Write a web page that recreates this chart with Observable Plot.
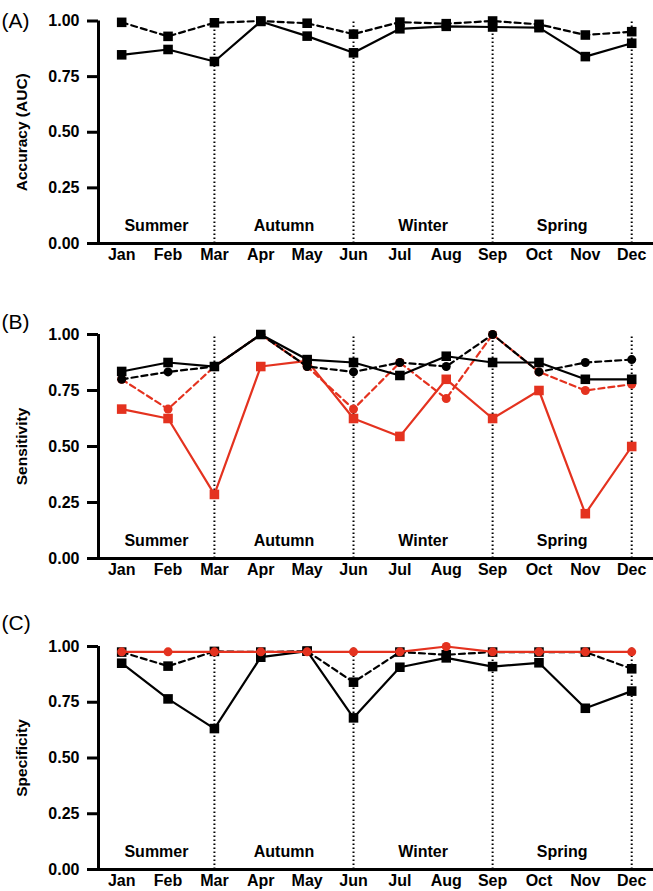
<!DOCTYPE html>
<html>
<head>
<meta charset="utf-8">
<script src="https://cdn.jsdelivr.net/npm/d3@7"></script>
<script src="https://cdn.jsdelivr.net/npm/@observablehq/plot@0.6"></script>
<style>
  html, body { margin: 0; padding: 0; background: #fff; }
  #chart { width: 653px; }
  #chart svg { display: block; }
</style>
</head>
<body>
<div id="chart"></div>
<script>
// ---- data ----
const months = ["Jan","Feb","Mar","Apr","May","Jun","Jul","Aug","Sep","Oct","Nov","Dec"];
const seasons = ["Summer","Autumn","Winter","Spring"];
const seasonEnds = ["Mar","Jun","Sep","Dec"];
const yTicks = [0, 0.25, 0.5, 0.75, 1];

// (A) Accuracy (AUC)
const aucSolid  = [0.848, 0.872, 0.818, 0.998, 0.932, 0.857, 0.965, 0.976, 0.973, 0.970, 0.840, 0.900];
const aucDashed = [0.994, 0.931, 0.992, 1.000, 0.990, 0.941, 0.995, 0.988, 1.000, 0.985, 0.937, 0.952];

// (B) Sensitivity
const sensBlackSolid  = [0.835, 0.875, 0.857, 1.000, 0.888, 0.875, 0.817, 0.903, 0.875, 0.875, 0.800, 0.800];
const sensBlackDashed = [0.800, 0.833, 0.857, 1.000, 0.857, 0.833, 0.875, 0.857, 1.000, 0.833, 0.875, 0.888];
const sensRedSolid    = [0.667, 0.625, 0.286, 0.857, 0.882, 0.625, 0.545, 0.800, 0.625, 0.750, 0.200, 0.500];
const sensRedDashed   = [0.800, 0.667, 0.857, 1.000, 0.857, 0.667, 0.875, 0.714, 1.000, 0.833, 0.750, 0.778];

// (C) Specificity
const specBlackSolid  = [0.925, 0.765, 0.632, 0.952, 0.979, 0.680, 0.907, 0.949, 0.910, 0.927, 0.723, 0.800];
const specBlackDashed = [0.975, 0.912, 0.978, 0.975, 0.979, 0.840, 0.975, 0.963, 0.975, 0.975, 0.975, 0.900];
const specRedSolid    = [0.976, 0.976, 0.976, 0.976, 0.976, 0.976, 0.976, 1.000, 0.976, 0.976, 0.976, 0.976];

// ---- styles ----
const RED = "#e4321f";
const BLACK = "#000";
const DASH = "6,4";
const seasonLabelY = 0.08;
const xDomain = [-0.5, 11.47];
const FONT = "'Liberation Sans', Arial, Helvetica, sans-serif";

const idx = m => months.indexOf(m);

function seasonCenters() {
  const out = [];
  let prev = xDomain[0];
  seasons.forEach((s, k) => {
    const end = idx(seasonEnds[k]);
    out.push({name: s, x: (prev + end) / 2, y: seasonLabelY});
    prev = end;
  });
  return out;
}

function panel({ytitle, label, series, height, marginTop, marginBottom, labelDy}) {
  const marks = [];
  marks.push(Plot.ruleX(seasonEnds.map(idx), {y1: 0, y2: 1, stroke: BLACK, strokeWidth: 2, strokeDasharray: "1.6,2.4"}));
  for (const s of series) {
    const rows = s.values.map((v, i) => ({i, v}));
    marks.push(Plot.line(rows, {x: "i", y: "v", stroke: s.color, strokeWidth: 2.2, strokeDasharray: s.dashed ? DASH : null}));
    marks.push(Plot.dot(rows, {x: "i", y: "v", symbol: s.symbol, r: s.symbol === "square" ? 5.4 : 4.5, fill: s.color, stroke: "none"}));
  }
  marks.push(Plot.ruleY([0], {stroke: BLACK, strokeWidth: 3}));
  marks.push(Plot.ruleX([xDomain[0]], {y1: 0, y2: 1, stroke: BLACK, strokeWidth: 3}));
  marks.push(Plot.axisY({ticks: yTicks, tickFormat: d3.format(".2f"), tickSize: 11, tickPadding: 8, strokeWidth: 3, fontSize: 16, fontWeight: "bold", label: null}));
  marks.push(Plot.axisX({ticks: months.map((m, i) => i), tickFormat: i => months[i], tickSize: 0, tickPadding: 5, fontSize: 16, fontWeight: "bold", label: null}));
  marks.push(Plot.text(seasonCenters(), {x: "x", y: "y", text: "name", fontSize: 16, fontWeight: "bold"}));
  marks.push(Plot.text([ytitle], {frameAnchor: "left", dx: -76, rotate: -90, textAnchor: "middle", fontSize: 15.5, fontWeight: "bold"}));
  marks.push(Plot.text([label], {frameAnchor: "top-left", dx: -97, dy: labelDy, textAnchor: "start", lineAnchor: "middle", fontSize: 21, fontWeight: "normal"}));
  return Plot.plot({
    width: 653,
    height,
    marginLeft: 98,
    marginRight: 0,
    marginTop,
    marginBottom,
    x: {type: "linear", domain: xDomain, axis: null},
    y: {domain: [0, 1], axis: null},
    style: {fontFamily: FONT, fontSize: "16px", color: "#000", background: "#fff", overflow: "visible"},
    marks
  });
}

const chart = document.getElementById("chart");
chart.append(panel({
  ytitle: "Accuracy (AUC)", label: "(A)", height: 313, marginTop: 20.5, marginBottom: 70, labelDy: 0,
  series: [
    {values: aucDashed, color: BLACK, dashed: true, symbol: "square"},
    {values: aucSolid, color: BLACK, dashed: false, symbol: "square"}
  ]
}));
chart.append(panel({
  ytitle: "Sensitivity", label: "(B)", height: 300, marginTop: 21, marginBottom: 55, labelDy: -12,
  series: [
    {values: sensRedDashed, color: RED, dashed: true, symbol: "circle"},
    {values: sensRedSolid, color: RED, dashed: false, symbol: "square"},
    {values: sensBlackDashed, color: BLACK, dashed: true, symbol: "circle"},
    {values: sensBlackSolid, color: BLACK, dashed: false, symbol: "square"}
  ]
}));
chart.append(panel({
  ytitle: "Specificity", label: "(C)", height: 278, marginTop: 33, marginBottom: 22, labelDy: -23,
  series: [
    {values: specBlackSolid, color: BLACK, dashed: false, symbol: "square"},
    {values: specBlackDashed, color: BLACK, dashed: true, symbol: "square"},
    {values: specRedSolid, color: RED, dashed: false, symbol: "circle"}
  ]
}));
</script>
</body>
</html>
